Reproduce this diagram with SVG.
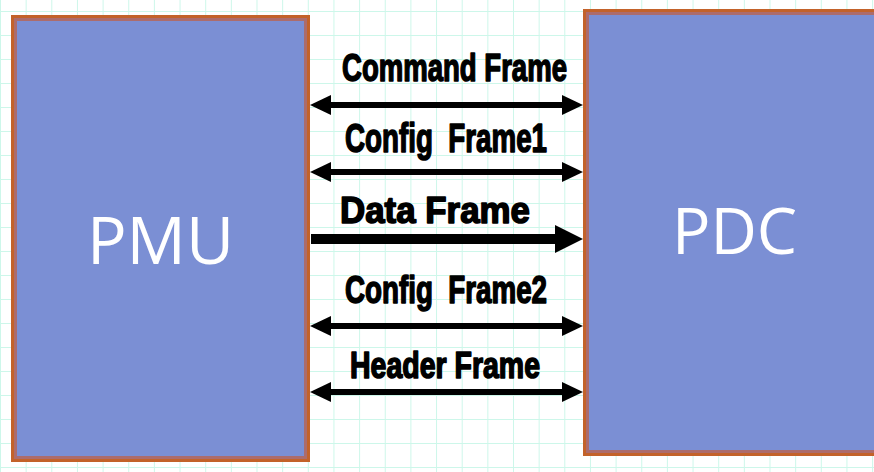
<svg xmlns="http://www.w3.org/2000/svg" width="874" height="472" viewBox="0 0 874 472">
<style>
.box{fill:#7B8FD4;stroke:#C3622A;stroke-width:3}
.band{fill:none;stroke:#AC6C6C;stroke-width:3}
.name{font-family:"Open Sans","Noto Sans",sans-serif;fill:#ffffff;text-anchor:middle}
.lbl{font-family:"Liberation Sans",Arial,sans-serif;font-weight:bold;fill:#000;stroke:#000;stroke-width:1.6;stroke-linejoin:round;white-space:pre}
.ln{stroke:#000;stroke-width:6;fill:none}
.lnb{stroke:#000;stroke-width:10;fill:none}
</style>
<defs>
<pattern id="grid" patternUnits="userSpaceOnUse" x="0" y="11" width="25.65" height="24">
<path d="M0.5,0 V24 M0,0.5 H25.65" stroke="#CDF7EA" stroke-width="1" fill="none"/>
</pattern>
<marker id="ah" markerUnits="userSpaceOnUse" markerWidth="21" markerHeight="20" refX="0" refY="10" orient="auto-start-reverse" viewBox="0 0 21 20">
<path d="M0,0 L21,10 L0,20 z" fill="#000"/>
</marker>
<marker id="ahb" markerUnits="userSpaceOnUse" markerWidth="28" markerHeight="28" refX="0" refY="14" orient="auto-start-reverse" viewBox="0 0 28 28">
<path d="M0,0 L28,14 L0,28 z" fill="#000"/>
</marker>
</defs>
<rect width="874" height="472" fill="#ffffff"/>
<rect width="874" height="472" fill="url(#grid)"/>
<g id="pmu">
<rect class="box" x="12.5" y="16.5" width="296" height="444"/>
<rect class="band" x="15.5" y="19.5" width="290" height="438"/>
<text class="name" x="160.5" y="264" font-size="66">PMU</text>
</g>
<g id="pdc">
<rect class="box" x="584.5" y="10.5" width="300" height="444"/>
<rect class="band" x="587.5" y="13.5" width="300" height="438"/>
<text class="name" x="734.5" y="254" font-size="64">PDC</text>
</g>
<g id="connectors">
<line class="ln" x1="331" y1="105" x2="562" y2="105" marker-start="url(#ah)" marker-end="url(#ah)"/>
<line class="ln" x1="331" y1="172" x2="562" y2="172" marker-start="url(#ah)" marker-end="url(#ah)"/>
<line class="lnb" x1="311" y1="239" x2="555" y2="239" marker-end="url(#ahb)"/>
<line class="ln" x1="331" y1="326" x2="562" y2="326" marker-start="url(#ah)" marker-end="url(#ah)"/>
<line class="ln" x1="331" y1="392" x2="562" y2="392" marker-start="url(#ah)" marker-end="url(#ah)"/>
</g>
<g id="labels">
<text class="lbl" x="342" y="81" font-size="39" textLength="225" lengthAdjust="spacingAndGlyphs">Command Frame</text>
<text class="lbl" x="345" y="152" font-size="41" textLength="202" lengthAdjust="spacingAndGlyphs">Config  Frame1</text>
<text class="lbl" x="340" y="223" font-size="37" textLength="190" lengthAdjust="spacingAndGlyphs">Data Frame</text>
<text class="lbl" x="345" y="303" font-size="39" textLength="202" lengthAdjust="spacingAndGlyphs">Config  Frame2</text>
<text class="lbl" x="350" y="378" font-size="36" textLength="190" lengthAdjust="spacingAndGlyphs">Header Frame</text>
</g>
</svg>
